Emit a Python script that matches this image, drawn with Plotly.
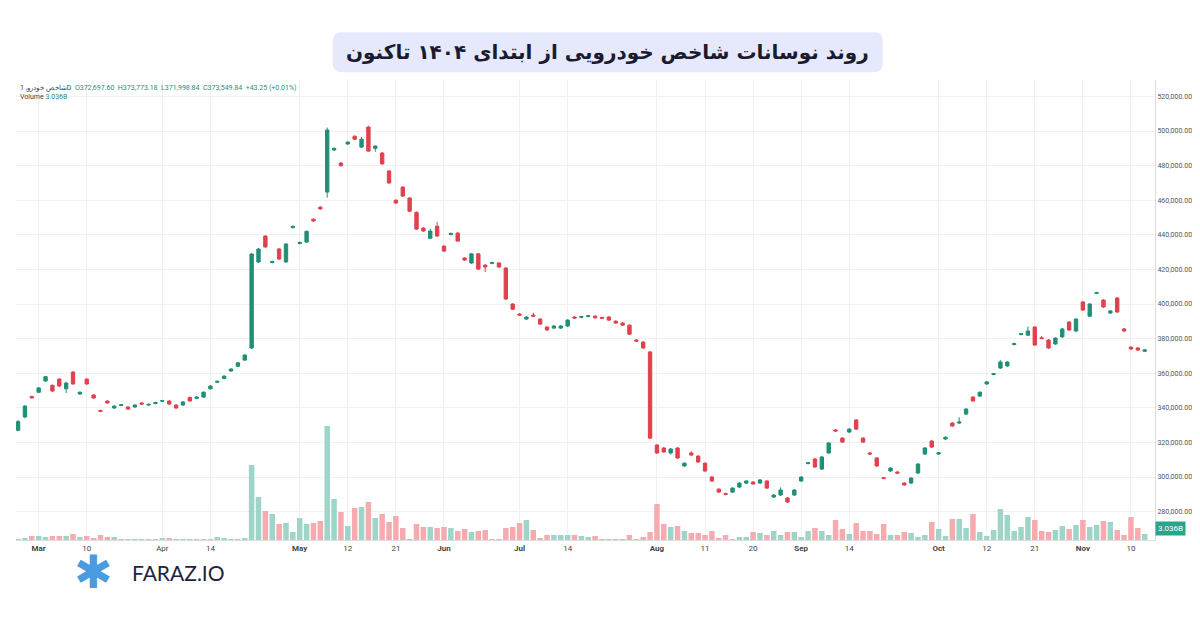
import plotly.graph_objects as go

# OHLC in thousands (daily candles, left to right)
opens = [327, 334.7, 346.5, 349, 355.5, 353, 356.6, 351, 360.7, 348,
         356.6, 347.4, 338.4, 343.9, 339.9, 341.4, 340.5, 340.5, 342.8, 341.6,
         342.5, 343.8, 343.9, 341.6, 341.6, 346, 345.5, 346.2, 351, 354.8,
         357, 361.3, 364, 367.6, 374.6, 424.3, 439.3, 424, 431.8, 424.3,
         444.2, 435, 435.8, 449, 456, 464.7, 489, 481.5, 492.5, 497,
         490.7, 502.3, 490, 487.3, 476.9, 460, 467.6, 461.3, 453, 443.9,
         438, 445, 433.5, 440.2, 441, 426.6, 423.7, 429, 422.5, 423.5,
         423.7, 420.8, 400, 394.2, 391.3, 393.6, 391.3, 386.7, 386.1, 386.1,
         387.3, 392.5, 392.3, 392.8, 393, 392.2, 392.5, 390.1, 389, 387.8,
         379.2, 378, 372.3, 318.5, 316.8, 313.9, 316.8, 306.4, 313.9, 312.1,
         308, 300, 293, 290.4, 291.3, 294.2, 296.5, 297.1, 296.5, 297.7,
         288.4, 289.6, 287.9, 289.6, 297.7, 307.8, 310.4, 304.6, 313.9, 327.2,
         322.5, 326, 333, 322.5, 313.9, 311, 299.6, 303.5, 302.9, 296.5,
         296.5, 302.3, 313.3, 320.8, 313.3, 322, 331.2, 331.2, 336.4, 346.2,
         346.8, 353.8, 359.3, 363, 364.2, 376.6, 382.4, 382, 386.7, 380.5,
         379.2, 376.9, 381, 389.6, 384.4, 401.2, 393, 406.2, 402.3, 394.8,
         403.5, 385.6, 375.1, 374.6, 372.7]
closes = [332, 341, 345.8, 351.5, 358, 349.7, 352.6, 354.3, 353.8, 349,
          353.8, 345.7, 338, 342.8, 341, 341.8, 339.3, 341.6, 342.2, 342,
          343, 344.2, 342.2, 339.9, 343.4, 344, 346.2, 349, 352.6, 355.3,
          358.3, 362.4, 366, 370.5, 428.9, 431.8, 433, 424.6, 426, 434.7,
          444.9, 435.6, 442, 448, 455, 500.6, 490, 480, 493.6, 495.3,
          495.3, 488.4, 491.3, 481, 470, 458.4, 462.4, 453.7, 443.3, 442.2,
          442.2, 439.3, 430.6, 440.8, 436.4, 425.4, 429, 420.2, 421.4, 424,
          421.4, 402.9, 397, 393.6, 392.5, 393, 388.4, 385, 387.3, 387.3,
          390.7, 391.9, 392.7, 393.2, 392, 391.8, 390.7, 389, 387.8, 382.6,
          378.6, 374.6, 322.5, 313.9, 314.5, 316.2, 311, 308, 312.7, 308.7,
          303.5, 297.7, 291.3, 290, 293.6, 296.5, 297.7, 296, 298.3, 293.6,
          289.6, 292.5, 285.5, 292.5, 300, 308.2, 305.8, 311.6, 319.7, 326.6,
          320.2, 327.7, 327.7, 320.2, 313.3, 306.4, 299.2, 305.2, 302.3, 295.4,
          299.4, 307.5, 316.8, 317.3, 314, 323, 329.5, 331.8, 339.3, 344,
          349, 355, 359.7, 366.5, 366.5, 377.1, 382.8, 384.4, 376.3, 380.1,
          374.6, 380.3, 385.6, 385, 391.3, 396.5, 400, 406.6, 398.3, 396,
          395.4, 384.4, 374, 373.4, 373.5]
highs = [333, 341.6, 347, 352, 358.5, 353.5, 357.1, 355, 361.2, 349.5,
         357.1, 347.9, 339, 344.4, 341.5, 342.2, 341, 342.1, 343.3, 342.4,
         343.5, 344.6, 344.4, 342.1, 343.9, 346.5, 346.7, 349.5, 353.1, 355.8,
         358.8, 362.9, 366.5, 371, 429.5, 432.3, 439.8, 425.1, 432.3, 435.2,
         445.4, 436.1, 442.5, 449.5, 456.5, 502, 490.5, 482, 494.1, 497.5,
         496.5, 503, 491.8, 487.8, 477.4, 460.5, 468.1, 461.8, 453.5, 444.4,
         443.5, 447.5, 434, 441.3, 441.5, 427.1, 429.5, 429.5, 423, 424.5,
         424.2, 421.3, 400.5, 394.7, 393, 395, 391.8, 387.2, 387.8, 387.8,
         391.2, 393, 393.2, 393.7, 393.5, 392.7, 393, 390.6, 389.5, 388.3,
         379.7, 378.5, 372.8, 319, 317.3, 316.7, 317.3, 308.5, 314.9, 312.6,
         308.5, 300.5, 293.5, 291, 294.1, 297, 298.2, 297.6, 298.8, 298.2,
         290.1, 294, 288.4, 293, 300.5, 308.7, 310.9, 312.1, 320.2, 327.7,
         323, 328.2, 333.5, 323, 314.4, 311.5, 300.1, 305.7, 303.4, 297,
         299.9, 308, 317.3, 321.3, 314.5, 323.5, 331.7, 334.5, 339.8, 346.7,
         349.5, 355.5, 360.2, 367.5, 367, 377.6, 383.3, 387, 387.2, 381.5,
         379.7, 380.8, 386.1, 390.1, 391.8, 401.7, 400.5, 407.1, 402.8, 396.5,
         404, 386.1, 375.6, 375.1, 374]
lows = [326.5, 334, 345.3, 348.5, 355, 349.2, 352, 348.5, 353.3, 347.5,
        353.3, 345.2, 337.5, 342.3, 339.4, 341, 338.8, 340, 341.7, 341.2,
        342, 343.4, 341.7, 339.4, 341.1, 343.5, 345, 345.7, 350.5, 354.3,
        356.5, 360.8, 363.5, 367.1, 374, 423.8, 432.5, 423.5, 425.5, 423.8,
        443.7, 434.5, 435.3, 447.5, 454.5, 461.5, 488.5, 479.5, 492, 494.8,
        490.2, 488, 488, 480.5, 469.5, 457.9, 461.9, 453.2, 442.8, 441.7,
        437.5, 438.8, 430.1, 439.7, 435.9, 424.9, 423.2, 419.7, 418.5, 423,
        420.9, 402.4, 396.5, 393.1, 390.8, 392.5, 387.9, 384.5, 385.6, 385.6,
        386.8, 391.4, 391.8, 392.3, 391.5, 391.3, 390.2, 388.5, 387.3, 382.1,
        378.1, 374.1, 322, 313.4, 314, 313, 310.5, 305.9, 312.2, 308.2,
        303, 297.2, 290.8, 289.4, 290.8, 293.7, 296, 295.5, 296, 293.1,
        287.9, 289.1, 285, 289.1, 297.2, 307.3, 305.3, 304.1, 313.4, 326.1,
        319.7, 325.5, 327.2, 319.7, 312.8, 305.9, 298.7, 303, 301.8, 294.9,
        296, 301.8, 312.8, 316.8, 312.8, 321.5, 329, 330.7, 335.9, 343.5,
        346.3, 353.3, 358.8, 362.5, 363.7, 376.1, 381.9, 381.5, 375.8, 379.6,
        374.1, 376.4, 380.5, 384.5, 383.9, 396, 392.5, 405.7, 397.8, 394.3,
        394.9, 383.9, 373.5, 372.9, 372.2]
volume = [1, 2, 4, 4, 3, 4, 4, 4, 6, 3,
          4, 2, 5, 3, 3, 1, 1, 1, 1, 1,
          1, 1.5, 1.5, 1, 1, 1, 1, 1, 1, 3,
          2, 1, 1, 1.5, 75, 43, 29, 26, 16, 17,
          8, 22, 16, 17, 19, 114, 41, 28, 14, 32,
          33, 38, 22, 26, 18, 24, 12, 1, 16, 13,
          13, 12, 13, 12, 9, 11, 8, 9, 10, 1,
          1, 12, 13, 17, 20, 10, 2, 5, 5, 5,
          5, 5, 4, 3, 4, 0.5, 0.5, 1, 1, 5,
          1, 3, 8, 36, 16, 13, 14, 9, 7, 7,
          5, 9, 2, 5, 1, 3, 3, 8, 7, 5,
          9, 5, 8, 8, 3, 9, 12, 9, 5, 20,
          11, 6, 17, 9, 9, 6, 16, 5, 5, 8,
          7, 3, 5, 18, 11, 4, 21, 21, 12, 26,
          8, 4, 10, 31, 25, 9, 13, 23, 20, 9,
          8, 10, 14, 11, 15, 20, 13, 15, 19, 18,
          10, 5, 23, 12, 6]

tick_idx = [3, 10, 21, 28, 41, 48, 55, 62, 73, 80, 93, 100, 107, 114, 121, 134, 141, 148, 155, 162]
tick_txt = ["<b>Mar</b>", "10", "Apr", "14", "<b>May</b>", "12", "21", "<b>Jun</b>", "<b>Jul</b>", "14",
            "<b>Aug</b>", "11", "20", "<b>Sep</b>", "14", "<b>Oct</b>", "12", "21", "<b>Nov</b>", "10"]
price_ticks = [280, 300, 320, 340, 360, 380, 400, 420, 440, 460, 480, 500, 520]

GREEN = "#1f8f76"
RED = "#e0414d"
x = list(range(len(opens)))
vol_colors = ["#9fd5c9" if c >= o else "#f5abb0" for o, c in zip(opens, closes)]

fig = go.Figure()
fig.add_trace(go.Bar(x=x, y=volume, marker_color=vol_colors, marker_line_width=0,
                     yaxis="y2", width=0.8, showlegend=False))
fig.add_trace(go.Candlestick(
    x=x, open=opens, high=highs, low=lows, close=closes,
    increasing=dict(line=dict(color=GREEN, width=1), fillcolor=GREEN),
    decreasing=dict(line=dict(color=RED, width=1), fillcolor=RED),
    whiskerwidth=0, showlegend=False))

fig.update_layout(
    width=1200, height=630,
    margin=dict(l=8, r=53, t=72, b=98),
    paper_bgcolor="white", plot_bgcolor="white",
    font=dict(family="Roboto", color="#555"),
    xaxis=dict(range=[-0.3, 165.5], tickvals=tick_idx, ticktext=tick_txt,
               tickfont=dict(size=8, color="#444"), showgrid=True, gridcolor="#f1f1f1",
               rangeslider=dict(visible=False), showline=True, linecolor="#ddd",
               ticks="", fixedrange=True),
    yaxis=dict(side="right", range=[263.6, 529.5], tickvals=price_ticks,
               ticktext=[f"{v*1000:,.2f}" for v in price_ticks],
               tickfont=dict(size=7, color="#555"), showgrid=True, gridcolor="#f1f1f1",
               zeroline=False, showline=True, linecolor="#ddd"),
    yaxis2=dict(overlaying="y", range=[0, 460], visible=False),
)

# title pill (rounded)
x0, x1, y0, y1, r = 0.278, 0.761, 1.017, 1.104, 0.008
ry = 0.02
fig.add_shape(type="path", xref="paper", yref="paper", layer="below",
              path=(f"M {x0+r},{y0} L {x1-r},{y0} Q {x1},{y0} {x1},{y0+ry} L {x1},{y1-ry} "
                    f"Q {x1},{y1} {x1-r},{y1} L {x0+r},{y1} Q {x0},{y1} {x0},{y1-ry} "
                    f"L {x0},{y0+ry} Q {x0},{y0} {x0+r},{y0} Z"),
              fillcolor="#e6e9fb", line=dict(width=0))
fig.add_annotation(xref="paper", yref="paper", x=0.519, y=1.06, yanchor="middle", showarrow=False,
                   text="<b>روند نوسانات شاخص خودرویی از ابتدای ۱۴۰۴ تاکنون</b>",
                   font=dict(family="DejaVu Sans", size=20, color="#1b1b2f"))

# legend line
fig.add_annotation(xref="paper", yref="paper", x=0.002, y=0.995, xanchor="left", yanchor="top",
                   showarrow=False, align="left",
                   text="شاخص خودرو, 1D  <span style='color:#1f8f76'>O372,697.60  H373,773.18  "
                        "L371,998.84  C373,549.84  +43.25 (+0.01%)</span><br>"
                        "Volume <span style='color:#1f8f76'>3.036B</span>",
                   font=dict(size=7, color="#444"))

# volume value badge
fig.add_annotation(xref="paper", yref="y", x=1.0, y=270.2, xanchor="left", showarrow=False,
                   text="3.036B", bgcolor="#2aa58b", font=dict(size=8, color="white"),
                   borderpad=2)

# logo
fig.add_annotation(xref="paper", yref="paper", x=0.068, y=-0.07, xanchor="center", yanchor="middle",
                   showarrow=False, text="✱", font=dict(size=46, color="#4a9be0"))
fig.add_annotation(xref="paper", yref="paper", x=0.1, y=-0.07, xanchor="left", yanchor="middle",
                   showarrow=False,
                   text="FARAZ.IO", font=dict(family="Lato", size=21, color="#1d2340"))

fig.write_html("out.html")
